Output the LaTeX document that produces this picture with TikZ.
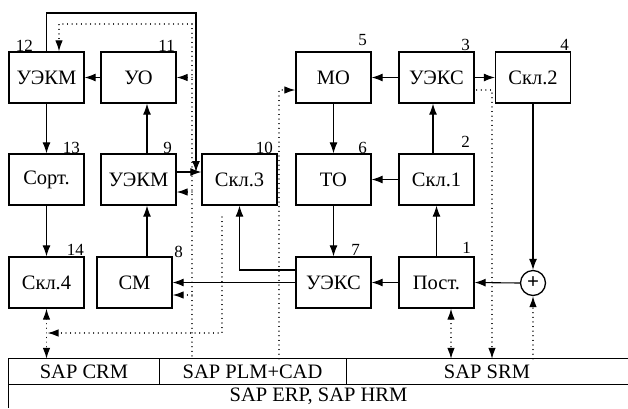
\documentclass[tikz,border=0pt]{standalone}
\usepackage{fontspec}
\setmainfont{Liberation Serif}
\newfontfamily\tmsfont{Liberation Serif}
\usetikzlibrary{arrows.meta,calc}
\begin{document}
\begin{tikzpicture}[x=1pt,y=-1pt,
  box/.style={draw, line width=1.3pt, minimum width=75pt, minimum height=51pt, inner sep=0pt, font=\tmsfont\fontsize{20.5}{24}\selectfont},
  num/.style={anchor=base east, inner sep=0pt, font=\tmsfont\fontsize{17}{19}\selectfont},
  tabtxt/.style={inner sep=0pt, font=\tmsfont\fontsize{20.5}{24}\selectfont},
  tabline/.style={line width=1.3pt},
  arr/.style={line width=1.1pt, -{Latex[length=11pt,width=8pt]}},
  dotl/.style={line width=1.2pt, dash pattern=on 0.01pt off 4.6pt, line cap=round},
  dotarr/.style={dotl, -{Latex[length=11pt,width=7.5pt]}},
  dotarrb/.style={dotl, {Latex[length=11pt,width=7.5pt]}-{Latex[length=11pt,width=7.5pt]}}]
\useasboundingbox (0,0) rectangle (628,408);

% boxes
\node[box] (b12) at (46.5,77.5) {УЭКМ};
\node[box] (b11) at (138.5,77.5) {УО};
\node[box] (b13) at (46.5,179.5) {Сорт.};
\node[box] (b9) at (138.5,179.5) {УЭКМ};
\node[box] (b10) at (239.5,179.5) {Скл.3};
\node[box] (b5) at (333.5,77.5) {МО};
\node[box] (b6) at (333.5,179.5) {ТО};
\node[box] (b3) at (436.5,77.5) {УЭКС};
\node[box] (b4) at (533,77.5) {Скл.2};
\node[box] (b2) at (436.5,179.5) {Скл.1};
\node[box] (b14) at (46.5,282.5) {Скл.4};
\node[box] (b8) at (134.5,282.5) {СМ};
\node[box] (b7) at (333.5,282.5) {УЭКС};
\node[box] (b1) at (436.5,282.5) {Пост.};
\node[draw, circle, line width=1.3pt, minimum size=25pt, inner sep=0pt, font=\tmsfont\fontsize{21}{22}\selectfont\bfseries] (plus) at (533,283) {+};

% numbers
\node[num] (l12) at (33,51) {12};
\node[num] (l11) at (175,51) {11};
\node[num] (l13) at (80,153) {13};
\node[num] (l9) at (172,153) {9};
\node[num] (l10) at (273,153) {10};
\node[num] (l5) at (367,45) {5};
\node[num] (l3) at (470,50) {3};
\node[num] (l4) at (569,50) {4};
\node[num] (l2) at (470,147) {2};
\node[num] (l6) at (367,153) {6};
\node[num] (l1) at (471,253) {1};
\node[num] (l7) at (360,255) {7};
\node[num] (l14) at (84,255) {14};
\node[num] (l8) at (183,257) {8};

% table
\node[tabtxt, minimum width=150pt, minimum height=25pt] (crm) at (84,371.5) {SAP CRM};
\node[tabtxt, minimum width=187pt, minimum height=25pt] (plm) at (252.5,371.5) {SAP PLM+CAD};
\node[tabtxt, minimum width=282pt, minimum height=25pt] (srm) at (487,371.5) {SAP SRM};
\node[tabtxt, minimum width=619pt, minimum height=24pt] (erp) at (318.5,396) {SAP ERP, SAP HRM};
\draw[tabline] (erp.south west) -- (crm.north west) -- (srm.north east);
\draw[tabline] (crm.south west) -- (srm.south east);
\draw[tabline] (crm.north east) -- (crm.south east);
\draw[tabline] (plm.north east) -- (plm.south east);

% solid connectors
\draw[arr] (b12.south) -- (b13.north);
\draw[arr] (b13.south) -- (b14.north);
\draw[arr] (b11.west) -- (b12.east);
\draw[arr] ($(b9.north)+(8.5,0)$) -- ($(b11.south)+(8.5,0)$);
\coordinate (p8) at ($(b8.north)+(12.5,0)$);
\draw[arr] (p8) -- (p8 |- b9.south);
\coordinate (e9a) at ($(b9.east)+(0,-7.5)$);
\draw[arr] (e9a) -- (e9a -| b10.west);
\coordinate (top) at (120,13);
\coordinate (j10) at (196,172);
\draw[arr] (b12.north) |- (top) -| (j10);
\draw[arr] (b7.west) -- (b7.west -| b8.east);
\draw[arr] ($(b7.west)+(0,-12.5)$) -| (b10.south);
\draw[arr] (b1.west) -- (b7.east);
\draw[arr] (b1.north) -- (b2.south);
\draw[arr] ($(b2.north)+(-3.5,0)$) -- ($(b3.south)+(-3.5,0)$);
\draw[arr] (b2.west) -- (b6.east);
\draw[arr] (b5.south) -- (b6.north);
\draw[arr] (b6.south) -- (b7.north);
\draw[arr] (b3.west) -- (b5.east);
\draw[arr] (b3.east) -- (b4.west);
\draw[arr] (b4.south) -- (plus.north);
\draw[arr] (plus.west) -- (b1.east);

% dotted connectors
\coordinate (d1) at (192,24);
\draw[dotarr] (d1) -| ($(b12.north)+(12.5,0)$);
\draw[dotl] (d1) -- (d1 |- plm.north);
\draw[dotarr] (d1 |- b11.east) -- (b11.east);
\coordinate (e9) at ($(b9.east)+(0,12.5)$);
\draw[dotarr] (d1 |- e9) -- (e9);
\coordinate (e8) at ($(b8.east)+(0,12.5)$);
\draw[dotarr] (d1 |- e8) -- (e8);
\coordinate (d3) at (222,217);
\coordinate (d3b) at (47.5,333);
\draw[dotarr] (d3) |- (d3b);
\draw[dotarrb] (b14.south) -- (b14.south |- crm.north);
\coordinate (d5) at (279,90);
\draw[dotarr] (d5 |- plm.north) -- (d5) -- (d5 -| b5.west);
\coordinate (d6) at (492,90);
\draw[dotarr] ($(b3.east |- d6)+(2,0)$) -- (d6) -- (d6 |- srm.north);
\draw[dotarr] (plus.south |- srm.north) -- (plus.south);
\coordinate (d8) at ($(b1.south)+(14.5,0)$);
\draw[dotarrb] (d8) -- (d8 |- srm.north);
\end{tikzpicture}
\end{document}
